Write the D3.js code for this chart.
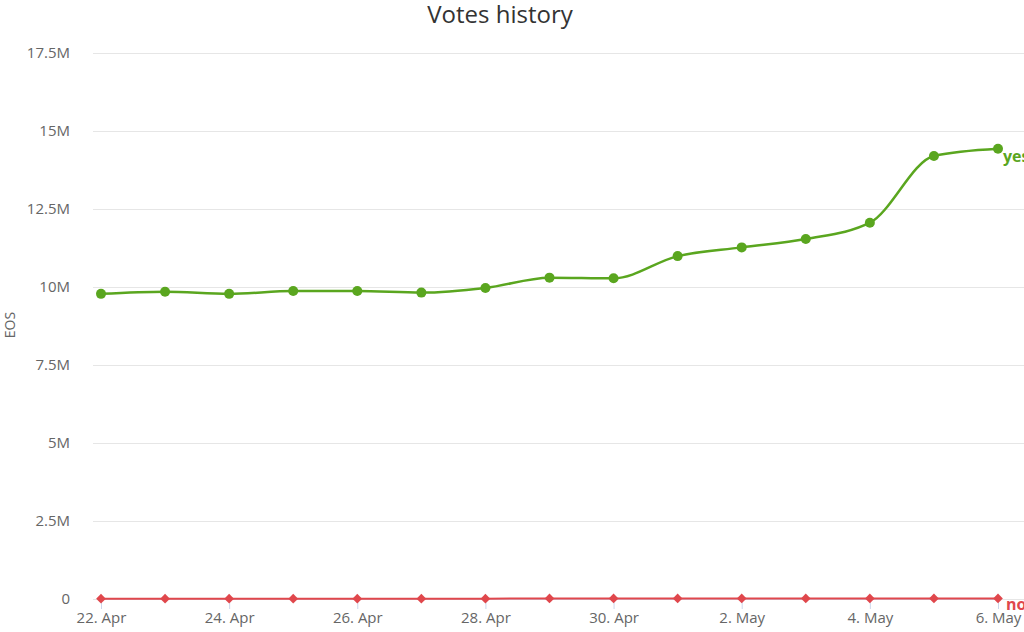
<!DOCTYPE html>
<html>
<head>
<meta charset="utf-8">
<script src="https://cdn.jsdelivr.net/npm/d3@7"></script>
<style>
  body { margin: 0; background: #fff; }
  svg { display: block; font-family: "Open Sans", sans-serif; }
</style>
</head>
<body>
<div class="wrapper"></div>
<script>
const w = 1024
const h = 632
const padLeft = 101
const padRight = 998
const padTop = 53
const padBottom = 599

// data (year assumed)
const days = ["2019-04-22", "2019-04-23", "2019-04-24", "2019-04-25", "2019-04-26", "2019-04-27", "2019-04-28",
  "2019-04-29", "2019-04-30", "2019-05-01", "2019-05-02", "2019-05-03", "2019-05-04", "2019-05-05", "2019-05-06"]
const yesVotes = [9.78, 9.85, 9.78, 9.87, 9.87, 9.82, 9.97, 10.3, 10.28, 10.99, 11.27, 11.54, 12.06, 14.2, 14.43]
const noVotes = [0.01, 0.01, 0.01, 0.01, 0.01, 0.01, 0.01, 0.02, 0.02, 0.02, 0.02, 0.02, 0.02, 0.02, 0.02]
const xTicks = ["2019-04-22", "2019-04-24", "2019-04-26", "2019-04-28", "2019-04-30", "2019-05-02", "2019-05-04", "2019-05-06"]
const yTicks = [0, 2.5, 5, 7.5, 10, 12.5, 15, 17.5]

const parse = d3.timeParse("%Y-%m-%d")
const dates = days.map(parse)

const xScale = d3.scaleTime().domain([dates[0], dates[dates.length - 1]]).range([padLeft, padRight])
const yScale = d3.scaleLinear().domain([0, 17.5]).range([padBottom, padTop])

const svg = d3.select(".wrapper")
  .append("svg")
  .attr("width", w)
  .attr("height", h)

svg.append("text")
  .attr("x", 500)
  .attr("y", 23)
  .attr("text-anchor", "middle")
  .attr("font-size", 24)
  .attr("fill", "#333")
  .text("Votes history")

// grid + y labels
const yAxis = d3.axisLeft(yScale)
  .tickValues(yTicks)
  .tickSize(-(w - padLeft))
  .tickFormat((d) => d === 0 ? "0" : d + "M")

svg.append("g")
  .attr("transform", "translate(" + padLeft + ", 0)")
  .call(yAxis)
  .call((g) => g.select(".domain").remove())
  .call((g) => g.selectAll(".tick line").attr("stroke", "#e6e6e6").attr("x1", -8))
  .call((g) => g.selectAll(".tick text")
    .attr("x", -31)
    .attr("font-size", 15)
    .attr("font-family", "Open Sans, sans-serif")
    .attr("fill", "#666"))

svg.append("text")
  .attr("transform", "translate(15, 325) rotate(-90)")
  .attr("text-anchor", "middle")
  .attr("font-size", 14)
  .attr("fill", "#666")
  .text("EOS")

// x axis
const xAxis = d3.axisBottom(xScale)
  .tickValues(xTicks.map(parse))
  .tickSize(10)
  .tickFormat(d3.timeFormat("%-d. %b"))

svg.append("g")
  .attr("transform", "translate(0, " + padBottom + ")")
  .call(xAxis)
  .call((g) => g.select(".domain").attr("stroke", "#ccd6eb"))
  .call((g) => g.selectAll(".tick line").attr("stroke", "#ccd6eb"))
  .call((g) => g.selectAll(".tick text")
    .attr("y", 13)
    .attr("font-size", 15)
    .attr("font-family", "Open Sans, sans-serif")
    .attr("fill", "#666"))

const line = d3.line()
  .x((d, i) => xScale(dates[i]))
  .y((d) => yScale(d))
  .curve(d3.curveMonotoneX)

const green = "#5aa61f"
const red = "#e0474c"

// no series
svg.append("path")
  .datum(noVotes)
  .attr("d", line)
  .attr("fill", "none")
  .attr("stroke", red)
  .attr("stroke-width", 2)

svg.selectAll(".no")
  .data(noVotes)
  .enter()
  .append("path")
  .attr("class", "no")
  .attr("d", d3.symbol(d3.symbolDiamond2, 60))
  .attr("transform", (d, i) => "translate(" + xScale(dates[i]) + "," + yScale(d) + ")")
  .attr("fill", red)

// yes series
svg.append("path")
  .datum(yesVotes)
  .attr("d", line)
  .attr("fill", "none")
  .attr("stroke", green)
  .attr("stroke-width", 2.5)

svg.selectAll(".yes")
  .data(yesVotes)
  .enter()
  .append("circle")
  .attr("class", "yes")
  .attr("cx", (d, i) => xScale(dates[i]))
  .attr("cy", (d) => yScale(d))
  .attr("r", 5)
  .attr("fill", green)

// end labels
const last = dates.length - 1
svg.append("text")
  .attr("x", xScale(dates[last]) + 5)
  .attr("y", yScale(yesVotes[last]) + 13)
  .attr("font-size", 16)
  .attr("font-weight", "bold")
  .attr("fill", green)
  .text("yes")

svg.append("text")
  .attr("x", xScale(dates[last]) + 8)
  .attr("y", yScale(noVotes[last]) + 12)
  .attr("font-size", 16)
  .attr("font-weight", "bold")
  .attr("fill", red)
  .text("no")
</script>
</body>
</html>
